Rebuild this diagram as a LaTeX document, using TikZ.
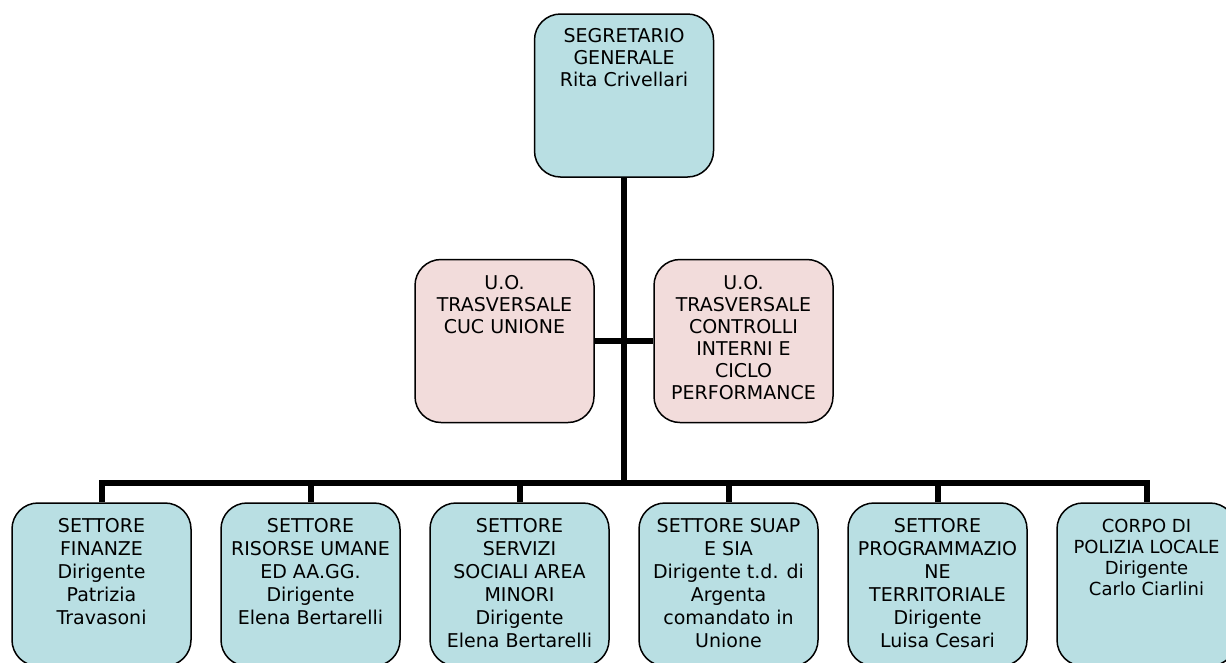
\documentclass[tikz,border=0pt]{standalone}
\usepackage{fontspec}
\setmainfont{DejaVu Sans}
\usetikzlibrary{positioning}

\definecolor{boxblue}{RGB}{185,223,227}
\definecolor{boxpink}{RGB}{242,220,219}

\tikzset{
    box/.style={draw=black, line width=1.5pt, rounded corners=26pt, minimum width=179pt, minimum height=163pt, inner sep=0pt},
    bluebox/.style={box, fill=boxblue},
    pinkbox/.style={box, fill=boxpink},
    boxtext/.style={anchor=north, align=center, inner sep=0pt, font=\fontsize{19}{23}\selectfont},
    midtext/.style={boxtext, font=\fontsize{19}{22}\selectfont},
    smalltext/.style={boxtext, font=\fontsize{18}{21}\selectfont},
    wire/.style={line width=6pt}
}

\begin{document}
\begin{tikzpicture}[x=1pt, y=-1pt]
    \useasboundingbox (0,0) rectangle (1226,662);
    \clip (0,0) rectangle (1226,662);

    \node[bluebox] (sg) at (624, 95.5) {};
    \node[pinkbox] (cuc) at (504.5, 341) {};
    \node[pinkbox] (ctrl) at (743.5, 341) {};

    \node[bluebox] (fin) at (101.5, 584.5) {};
    \node[bluebox] (ris) at (310.5, 584.5) {};
    \node[bluebox] (soc) at (519.5, 584.5) {};
    \node[bluebox] (suap) at (728.5, 584.5) {};
    \node[bluebox] (prog) at (937.5, 584.5) {};
    \node[bluebox] (pol) at (1146.5, 584.5) {};

    \node[midtext, below=15pt of sg.north] (sg-t) {SEGRETARIO\\GENERALE\\Rita Crivellari};
    \node[midtext, below=16pt of cuc.north] (cuc-t) {U.O.\\TRASVERSALE\\CUC UNIONE};
    \node[midtext, below=16pt of ctrl.north] (ctrl-t) {U.O.\\TRASVERSALE\\CONTROLLI\\INTERNI E\\CICLO\\PERFORMANCE};

    \node[boxtext, below=16pt of fin.north] (fin-t) {SETTORE\\FINANZE\\Dirigente\\Patrizia\\Travasoni};
    \node[boxtext, below=16pt of ris.north] (ris-t) {SETTORE\\RISORSE UMANE\\ED AA.GG.\\Dirigente\\Elena Bertarelli};
    \node[boxtext, below=16pt of soc.north] (soc-t) {SETTORE\\SERVIZI\\SOCIALI AREA\\MINORI\\Dirigente\\Elena Bertarelli};
    \node[boxtext, below=16pt of suap.north] (suap-t) {SETTORE SUAP\\E SIA\\Dirigente t.d. di\\Argenta\\comandato in\\Unione};
    \node[boxtext, below=16pt of prog.north] (prog-t) {SETTORE\\PROGRAMMAZIO\\NE\\TERRITORIALE\\Dirigente\\Luisa Cesari};
    \node[smalltext, below=17pt of pol.north] (pol-t) {CORPO DI\\POLIZIA LOCALE\\Dirigente\\Carlo Ciarlini};

    \coordinate (bus) at (624, 482.5);

    % trunk and staff offices
    \draw[wire] (sg.south) -- (sg.south |- bus);
    \draw[wire] (cuc.east) -- (ctrl.west);

    % bus to the sectors
    \draw[wire, line cap=rect] (fin.north |- bus) -- (pol.north |- bus);
    \foreach \s in {fin, ris, soc, suap, prog, pol}
        \draw[wire] (\s.north) -- (\s.north |- bus);
\end{tikzpicture}
\end{document}
